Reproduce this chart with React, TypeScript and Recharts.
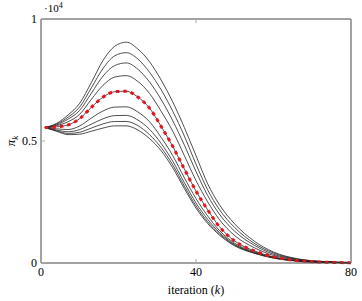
import { LineChart, Line, XAxis, YAxis } from 'recharts';

// iteration index k
const iterations = [1, 4, 7, 10, 13, 16, 19, 22, 25, 28, 31, 34, 37, 40, 43, 46, 50, 55, 60, 66, 72, 80];

// pi_k in units of 10^4 (top curve first)
const run1 = [0.555, 0.572, 0.607, 0.655, 0.74, 0.83, 0.888, 0.905, 0.877, 0.825, 0.75, 0.66, 0.555, 0.44, 0.325, 0.24, 0.16, 0.09, 0.045, 0.018, 0.007, 0.002];
const run2 = [0.555, 0.569, 0.598, 0.64, 0.718, 0.797, 0.849, 0.862, 0.836, 0.782, 0.71, 0.622, 0.52, 0.405, 0.3, 0.22, 0.145, 0.081, 0.041, 0.016, 0.006, 0.002];
const run3 = [0.555, 0.566, 0.59, 0.626, 0.696, 0.766, 0.809, 0.82, 0.794, 0.742, 0.67, 0.583, 0.483, 0.375, 0.277, 0.201, 0.13, 0.073, 0.036, 0.015, 0.006, 0.002];
const run4 = [0.555, 0.563, 0.579, 0.61, 0.671, 0.728, 0.762, 0.768, 0.744, 0.695, 0.622, 0.54, 0.44, 0.338, 0.251, 0.179, 0.112, 0.063, 0.031, 0.013, 0.005, 0.001];
const mean = [0.555, 0.558, 0.566, 0.592, 0.638, 0.68, 0.702, 0.704, 0.68, 0.635, 0.56, 0.478, 0.385, 0.295, 0.218, 0.15, 0.09, 0.05, 0.025, 0.01, 0.004, 0.001];
const run6 = [0.555, 0.55, 0.547, 0.562, 0.594, 0.623, 0.639, 0.64, 0.619, 0.579, 0.515, 0.44, 0.349, 0.264, 0.193, 0.134, 0.081, 0.046, 0.023, 0.009, 0.004, 0.001];
const run7 = [0.555, 0.545, 0.538, 0.547, 0.569, 0.591, 0.604, 0.605, 0.586, 0.548, 0.49, 0.417, 0.329, 0.246, 0.179, 0.126, 0.076, 0.043, 0.022, 0.009, 0.003, 0.001];
const run8 = [0.555, 0.542, 0.531, 0.536, 0.553, 0.57, 0.58, 0.58, 0.563, 0.526, 0.473, 0.402, 0.315, 0.234, 0.169, 0.12, 0.073, 0.041, 0.021, 0.008, 0.003, 0.001];
const run9 = [0.555, 0.54, 0.526, 0.528, 0.54, 0.553, 0.562, 0.562, 0.545, 0.51, 0.46, 0.39, 0.305, 0.225, 0.162, 0.115, 0.07, 0.04, 0.02, 0.008, 0.003, 0.001];

const xTicks = [0, 40, 80];
const yTicks = [0, 0.5, 1];

const runs: Record<string, number[]> = { run1, run2, run3, run4, mean, run6, run7, run8, run9 };

const data = iterations.map((k, i) => {
  const row: Record<string, number> = { k };
  Object.keys(runs).forEach(key => { row[key] = runs[key][i]; });
  return row;
});

const txt = { fontFamily: "'Liberation Serif', 'DejaVu Serif', serif", fill: '#000' };
const FRAME = '#444';
const TICK = '#aaa';

const BottomTick = (props: any) => {
  const { x, y, payload } = props;
  return (
    <g>
      <line x1={x} x2={x} y1={y} y2={y - 4} stroke={TICK} />
      <text x={x} y={y + 13} textAnchor="middle" fontSize={12} style={txt}>{payload.value}</text>
    </g>
  );
};

const TopTick = (props: any) => {
  const { x, y } = props;
  return <line x1={x} x2={x} y1={y} y2={y + 4} stroke={TICK} />;
};

const LeftTick = (props: any) => {
  const { x, y, payload } = props;
  return (
    <g>
      <line x1={x} x2={x + 4} y1={y} y2={y} stroke={TICK} />
      <text x={x - 4} y={y + 4} textAnchor="end" fontSize={12} style={txt}>{payload.value}</text>
    </g>
  );
};

const RightTick = (props: any) => {
  const { x, y } = props;
  return <line x1={x} x2={x - 4} y1={y} y2={y} stroke={TICK} />;
};

const blackRuns = ['run1', 'run2', 'run3', 'run4', 'mean', 'run6', 'run7', 'run8', 'run9'];

export default function App() {
  return (
    <div style={{ position: 'absolute', left: 0, top: 0, background: '#fff' }}>
      <LineChart width={362} height={301} data={data} margin={{ top: 0, right: 0, bottom: 0, left: 0 }}>
        <XAxis
          dataKey="k"
          type="number"
          domain={[0, 80]}
          ticks={xTicks}
          height={38}
          tickSize={0}
          tickMargin={0}
          tick={<BottomTick />}
          axisLine={{ stroke: FRAME }}
          label={{
            content: () => (
              <text x={196} y={294} textAnchor="middle" fontSize={12} style={txt}>
                iteration (<tspan fontStyle="italic">k</tspan>)
              </text>
            ),
          }}
        />
        <XAxis
          xAxisId="top"
          orientation="top"
          dataKey="k"
          type="number"
          domain={[0, 80]}
          ticks={xTicks}
          height={19}
          tickSize={0}
          tickMargin={0}
          tick={<TopTick />}
          axisLine={{ stroke: FRAME }}
          label={{
            content: () => (
              <text x={44} y={12} fontSize={11} style={txt}>
                ·10<tspan dy={-4} fontSize={8}>4</tspan>
              </text>
            ),
          }}
        />
        <YAxis
          type="number"
          domain={[0, 1]}
          ticks={yTicks}
          width={41}
          tickSize={0}
          tickMargin={0}
          tick={<LeftTick />}
          axisLine={{ stroke: FRAME }}
          label={{
            content: () => (
              <text x={15} y={141} transform="rotate(-90 15 141)" textAnchor="middle" fontSize={13} style={txt}>
                <tspan fontStyle="italic">π</tspan>
                <tspan dy={3} fontSize={9} fontStyle="italic">k</tspan>
              </text>
            ),
          }}
        />
        <YAxis
          yAxisId="right"
          orientation="right"
          type="number"
          domain={[0, 1]}
          ticks={yTicks}
          width={11}
          tickSize={0}
          tickMargin={0}
          tick={<RightTick />}
          axisLine={{ stroke: FRAME }}
        />
        {blackRuns.map(key => (
          <Line
            key={key}
            dataKey={key}
            type="monotone"
            stroke="#222"
            strokeWidth={0.8}
            dot={false}
            isAnimationActive={false}
          />
        ))}
        <Line
          dataKey="mean"
          type="monotone"
          stroke="#e8141b"
          strokeWidth={3}
          strokeDasharray="3.5 4"
          dot={false}
          isAnimationActive={false}
        />
      </LineChart>
    </div>
  );
}
